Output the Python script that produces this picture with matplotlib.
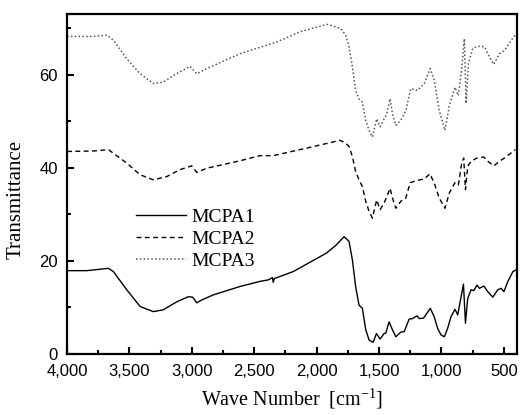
import matplotlib
matplotlib.use("Agg")
import matplotlib.pyplot as plt
from matplotlib.ticker import MultipleLocator, FuncFormatter

# ---- data ----
wn1 = [4000, 3842, 3669, 3629, 3522, 3415, 3309, 3229, 3122, 3029, 2994, 2961, 2921,
       2828, 2614, 2454, 2390, 2355, 2348, 2340, 2188, 1920, 1840, 1781, 1741, 1714,
       1688, 1661, 1634, 1607, 1580, 1548, 1521, 1492, 1460, 1446, 1420, 1393, 1366,
       1326, 1299, 1259, 1232, 1197, 1178, 1144, 1090, 1058, 1031, 1004, 977, 951, 924,
       892, 870, 843, 824, 808, 790, 763, 742, 715, 696, 661, 629, 589, 549, 522, 500,
       468, 428, 401]
t1 = [17.9, 17.9, 18.4, 17.7, 13.8, 10.2, 9.1, 9.5, 11.2, 12.3, 12.2, 11.0, 11.6,
      12.7, 14.5, 15.6, 15.9, 16.4, 15.4, 16.2, 17.7, 21.7, 23.5, 25.2, 24.2, 20.2,
      14.5, 10.5, 9.8, 5.2, 3.0, 2.5, 4.4, 3.2, 4.4, 4.5, 6.9, 5.2, 3.7,
      4.7, 4.8, 7.5, 7.6, 8.2, 7.6, 7.7, 9.8, 8.0, 5.5, 4.1, 3.7, 5.5, 8.0,
      9.6, 8.4, 12.3, 15.0, 6.6, 11.9, 13.8, 13.6, 14.8, 14.1, 14.6, 13.4, 12.2, 13.8, 14.1, 13.4,
      15.6, 17.7, 18.1]

wn2 = [4000, 3789, 3669, 3522, 3415, 3309, 3202, 3095, 3002, 2961, 2881, 2614, 2454,
       2348, 2134, 1889, 1814, 1774, 1741, 1714, 1688, 1661, 1634, 1607, 1580, 1554,
       1519, 1492, 1460, 1438, 1412, 1393, 1366, 1326, 1286, 1251, 1192, 1138, 1093,
       1058, 1018, 972, 937, 892, 865, 838, 822, 808, 790, 763, 715, 661, 629, 581,
       535, 495, 441, 409]
t2 = [43.5, 43.6, 43.9, 41.0, 38.5, 37.4, 38.1, 39.6, 40.4, 39.0, 39.9, 41.5, 42.6,
      42.6, 43.9, 45.4, 45.9, 45.4, 44.6, 42.4, 39.2, 37.4, 36.0, 32.8, 30.6, 29.2,
      33.1, 31.0, 32.4, 33.8, 35.6, 33.5, 31.3, 32.8, 33.5, 36.8, 37.3, 37.6, 38.7,
      36.7, 33.5, 31.3, 34.6, 36.8, 36.3, 41.0, 42.1, 35.3, 40.3, 41.4, 42.1, 42.3, 41.4, 40.4,
      41.4, 42.1, 43.2, 43.9]

wn3 = [4000, 3789, 3682, 3629, 3522, 3415, 3309, 3229, 3122, 3015, 2961, 2881, 2614,
       2321, 2134, 1920, 1889, 1808, 1768, 1741, 1714, 1688, 1661, 1634, 1607, 1580,
       1554, 1519, 1492, 1465, 1438, 1412, 1393, 1366, 1326, 1286, 1246, 1192, 1138,
       1090, 1058, 1018, 972, 937, 892, 865, 838, 817, 803, 784, 750, 710, 656, 616,
       581, 535, 495, 441, 401]
t3 = [68.2, 68.2, 68.5, 67.4, 63.4, 60.2, 58.1, 58.4, 60.2, 61.8, 60.2, 61.3, 64.5,
      67.0, 69.2, 70.8, 70.6, 69.9, 68.5, 66.0, 61.7, 56.6, 54.8, 54.1, 50.2, 48.0,
      46.6, 50.5, 48.8, 50.2, 51.6, 54.8, 51.6, 49.1, 50.2, 52.3, 57.0, 56.6, 58.1,
      61.3, 58.8, 52.3, 48.0, 53.4, 57.3, 55.5, 61.3, 67.7, 53.8, 62.4, 65.6, 66.1, 66.0, 63.8,
      62.2, 64.5, 65.2, 67.4, 68.8]

labels = ["MCPA1", "MCPA2", "MCPA3"]

serif = ["Liberation Serif", "DejaVu Serif"]
sans = ["Liberation Sans", "DejaVu Sans"]

fig = plt.figure(figsize=(5.2, 4.15), dpi=100)
ax = fig.add_axes([0.129, 0.147, 0.865, 0.819])

ax.plot(wn1, t1, color="black", lw=1.0, ls="-", label=labels[0])
ax.plot(wn2, t2, color="black", lw=1.0, ls=(0, (3.5, 2.5)), label=labels[1])
ax.plot(wn3, t3, color="#555555", lw=1.1, ls=(0, (1, 1.5)), label=labels[2])

ax.set_xlim(4000, 396)
ax.set_ylim(0, 73)

ax.xaxis.set_major_locator(MultipleLocator(500))
ax.xaxis.set_minor_locator(MultipleLocator(250))
ax.yaxis.set_major_locator(MultipleLocator(20))
ax.yaxis.set_minor_locator(MultipleLocator(10))
ax.xaxis.set_major_formatter(FuncFormatter(lambda v, p: f"{int(v):,}"))
ax.tick_params(which="both", direction="in", top=False, right=False)
ax.tick_params(which="major", length=5, width=1.5)
ax.tick_params(which="minor", length=3, width=1.5)
ax.tick_params(axis="x", which="major", pad=7.5)
ax.tick_params(axis="y", which="major", pad=6.5)
for lab in ax.get_xticklabels() + ax.get_yticklabels():
    lab.set_family(sans)
    lab.set_fontsize(12)
for s in ax.spines.values():
    s.set_linewidth(1.6)

ax.set_xlabel("Wave Number  [cm$^{\\mathregular{-1}}$]", family=serif, fontsize=14.5, labelpad=5)
ax.set_ylabel("Transmittance", family=serif, fontsize=15)
ax.yaxis.set_label_coords(-0.093, 0.456)

leg = ax.legend(loc="upper left", bbox_to_anchor=(0.135, 0.452), frameon=False,
                prop={"family": serif, "size": 14}, handlelength=2.6,
                handletextpad=0.25, labelspacing=0.22, borderaxespad=0)

fig.savefig("out.png", dpi=100)
